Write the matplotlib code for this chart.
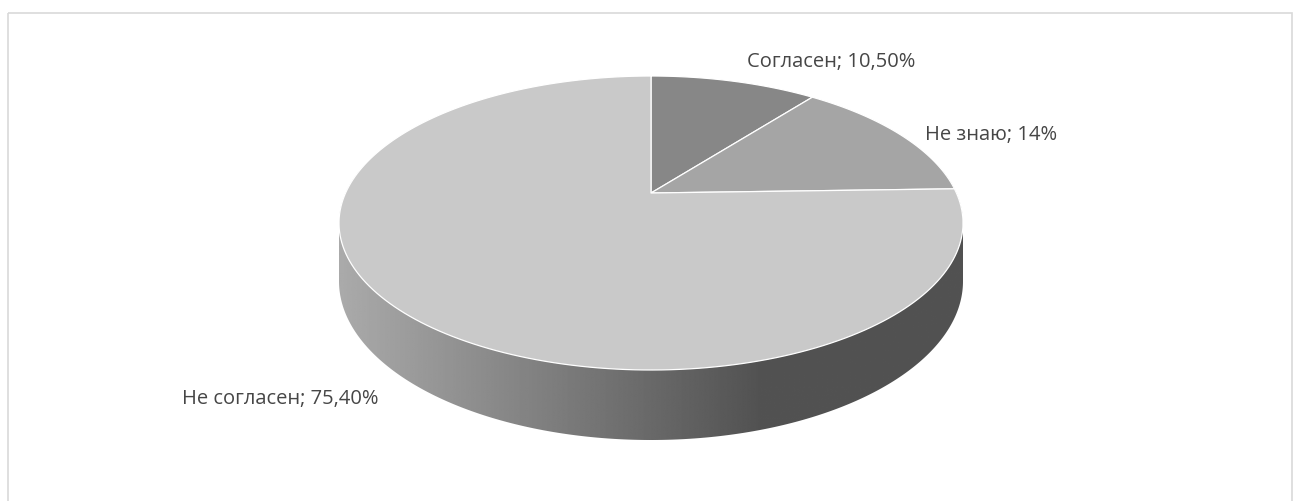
import numpy as np
import matplotlib
matplotlib.use('Agg')
import matplotlib.pyplot as plt
from matplotlib.patches import Polygon, Rectangle

# slices, clockwise from 12 o'clock
labels = ['Согласен', 'Не знаю', 'Не согласен']
values = [10.5, 14.0, 75.4]
colors = ['#878787', '#a5a5a5', '#c9c9c9']

# text spots for the data labels (left x, centre y, in pixels)
label_pos = [(747, 62), (925, 135), (182, 399)]

W, H = 1293, 501

# pie geometry (pixels, y down) with a bit of perspective
cx = 651.0
y_far, y_mid, y_near = 76.0, 193.0, 370.0
depth_near = 70.0

# y = (a*u + b) / (1 + c*u), u = sin(t), through far / centre / near points
b = y_mid
a, c = np.linalg.solve(np.array([[1.0, -y_far], [-1.0, y_near]]),
                       np.array([y_far - b, y_near - b]))
s = 312.0 * np.sqrt(1 - c ** 2)
d0 = depth_near * (1 - c)


def project(t, z=0.0):
    u = np.sin(t)
    w = 1 + c * u
    x = cx + s * np.cos(t) / w
    y = (a * u + b) / w + z * d0 / w
    return x, y


def hull(pts):
    pts = sorted(map(tuple, pts))
    def half(seq):
        out = []
        for p in seq:
            while len(out) >= 2 and ((out[-1][0] - out[-2][0]) * (p[1] - out[-2][1])
                                     - (out[-1][1] - out[-2][1]) * (p[0] - out[-2][0])) <= 0:
                out.pop()
            out.append(p)
        return out
    lo = half(pts)
    hi = half(reversed(pts))
    return np.array(lo[:-1] + hi[:-1])


def fmt(v):
    if float(v).is_integer():
        return '%d%%' % v
    return ('%.2f%%' % v).replace('.', ',')


plt.rcParams['font.family'] = ['Open Sans', 'DejaVu Sans']

fig = plt.figure(figsize=(W / 100, H / 100), dpi=100)
ax = fig.add_axes([0, 0, 1, 1])
ax.axis('off')

# chart area border
ax.add_patch(Rectangle((7.5, 12.5), W - 8.5, H + 20, fill=False,
                       edgecolor='#d9d9d9', linewidth=1.2))

# side wall: hull of top and bottom rims, shaded left to right
tt = np.linspace(0, 2 * np.pi, 721)
tx, ty = project(tt, 0)
bx, by = project(tt, 1)
side = hull(np.vstack([np.c_[tx, ty], np.c_[bx, by]]))
side_patch = Polygon(side, closed=True, facecolor='none', edgecolor='none')
ax.add_patch(side_patch)
gx = np.linspace(320, 980, 400)
shade = np.clip(170 - (gx - 340) / 420 * 88, 82, 170) / 255.0
img = ax.imshow(np.tile(shade, (2, 1)), cmap='gray', vmin=0, vmax=1,
                extent=[320, 980, 460, 170], aspect='auto', interpolation='bilinear')
img.set_clip_path(side_patch)

# top face wedges
start = np.pi / 2
total = sum(values)
for v, col in zip(values, colors):
    end = start - v / total * 2 * np.pi
    t = np.linspace(start, end, 200)
    x, y = project(t, 0)
    poly = np.vstack([[cx, b], np.c_[x, y]])
    ax.add_patch(Polygon(poly, closed=True, facecolor=col, edgecolor='white',
                         linewidth=0.9, joinstyle='round'))
    start = end

# data labels
for lab, v, (lx, ly) in zip(labels, values, label_pos):
    ax.text(lx, ly, '%s; %s' % (lab, fmt(v)), fontsize=14.5, color='#464646',
            ha='left', va='center')

ax.set_xlim(0, W)
ax.set_ylim(H, 0)
fig.savefig('out.png', dpi=100)
